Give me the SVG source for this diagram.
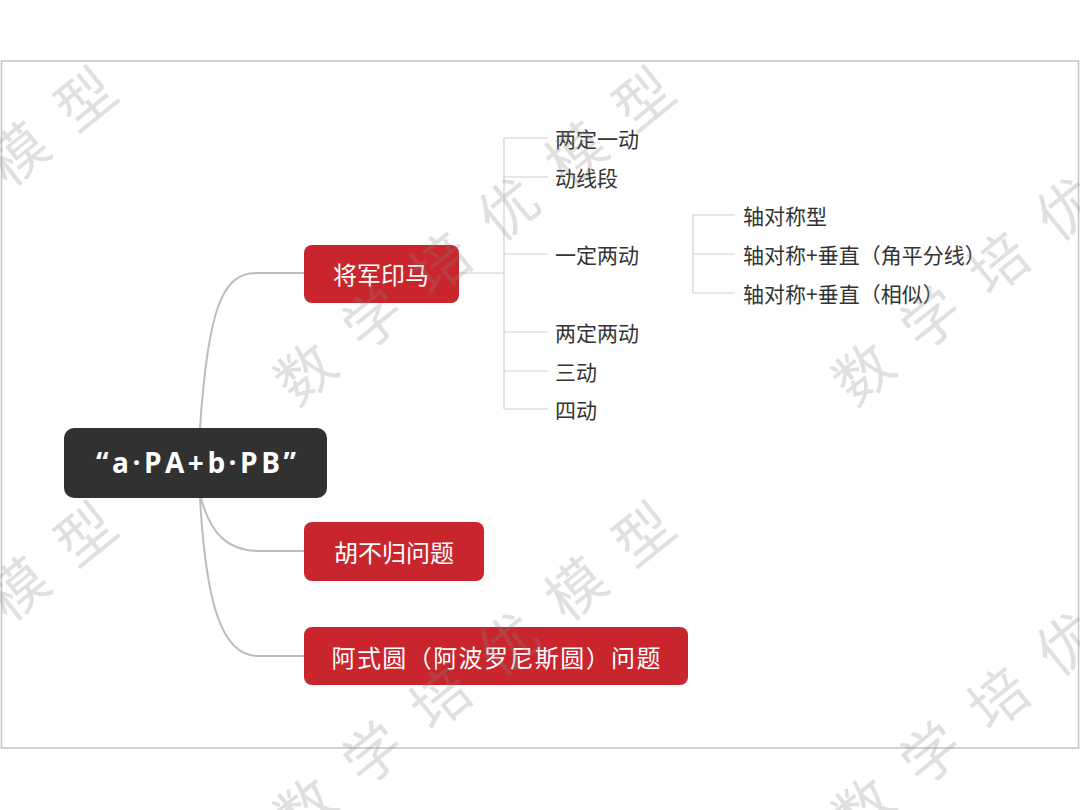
<svg xmlns="http://www.w3.org/2000/svg" width="1080" height="810" viewBox="0 0 1080 810">
<style>
.frame{fill:#ffffff;stroke:#c4c4c4;stroke-width:1.5}
.main{fill:none;stroke:#bdbdbd;stroke-width:2}
.br{fill:none;stroke:#d0d0d0;stroke-width:1.2}
.red{fill:#c9252d}
.dark{fill:#313131}
.rt{font-family:"Noto Sans CJK SC","Liberation Serif",serif;font-size:24px;fill:#ffffff;text-anchor:middle;dominant-baseline:central}
.root{font-family:"Open Sans","Liberation Sans",sans-serif;font-weight:bold;font-size:28px;fill:#ffffff;text-anchor:middle;dominant-baseline:central}
.ct{font-family:"Noto Sans CJK SC","Liberation Serif",serif;font-size:21px;fill:#333333;dominant-baseline:central}
.wm{font-family:"Noto Sans CJK SC",sans-serif;font-size:58px;fill:#888888;fill-opacity:0.26;letter-spacing:29px;dominant-baseline:central}
</style>
<rect width="1080" height="810" fill="#ffffff"/>
<rect class="frame" x="1.5" y="61" width="1077" height="687"/>
<g id="connectors">
<path class="main" d="M200 428 C 208 310, 222 273, 256 273 H 304"/>
<path class="main" d="M201 498 C 210 532, 226 551, 260 551 H 304"/>
<path class="main" d="M200 498 C 206 605, 222 656, 258 656 H 304"/>
<path class="br" d="M459 273 H 504 M504 138 V 409 M504 138 H 548 M504 177 H 548 M504 254 H 548 M504 332 H 548 M504 371 H 548 M504 409 H 548"/>
<path class="br" d="M693 215 V 293 M693 215 H 735 M693 254 H 735 M693 293 H 735"/>
</g>
<g id="root">
<rect class="dark" x="64" y="428" width="263" height="70" rx="10"/>
<text class="root" x="196" y="462" textLength="200" lengthAdjust="spacing">“a·PA+b·PB”</text>
</g>
<g id="n-jiangjun">
<rect class="red" x="304" y="245" width="155" height="58" rx="8"/>
<text class="rt" x="381" y="273">将军印马</text>
</g>
<g id="n-hubugui">
<rect class="red" x="304" y="522" width="180" height="59" rx="8"/>
<text class="rt" x="394" y="551">胡不归问题</text>
</g>
<g id="n-ashiyuan">
<rect class="red" x="304" y="627" width="384" height="58" rx="8"/>
<text class="rt" x="496" y="656" textLength="329" lengthAdjust="spacing">阿式圆（阿波罗尼斯圆）问题</text>
</g>
<g id="c1"><text class="ct" x="555" y="138">两定一动</text></g>
<g id="c2"><text class="ct" x="555" y="177">动线段</text></g>
<g id="c3"><text class="ct" x="555" y="254">一定两动</text></g>
<g id="c4"><text class="ct" x="555" y="332">两定两动</text></g>
<g id="c5"><text class="ct" x="555" y="371">三动</text></g>
<g id="c6"><text class="ct" x="555" y="409">四动</text></g>
<g id="g1"><text class="ct" x="743" y="215">轴对称型</text></g>
<g id="g2"><text class="ct" x="743" y="254">轴对称+垂直（角平分线）</text></g>
<g id="g3"><text class="ct" x="743" y="293">轴对称+垂直（相似）</text></g>
<g id="watermark">
<text class="wm" transform="translate(-255,370) rotate(-39)" x="-29" y="0">数学培优模型</text>
<text class="wm" transform="translate(303,370) rotate(-39)" x="-29" y="0">数学培优模型</text>
<text class="wm" transform="translate(861,370) rotate(-39)" x="-29" y="0">数学培优模型</text>
<text class="wm" transform="translate(-255,805) rotate(-39)" x="-29" y="0">数学培优模型</text>
<text class="wm" transform="translate(303,805) rotate(-39)" x="-29" y="0">数学培优模型</text>
<text class="wm" transform="translate(861,805) rotate(-39)" x="-29" y="0">数学培优模型</text>
</g>
</svg>
